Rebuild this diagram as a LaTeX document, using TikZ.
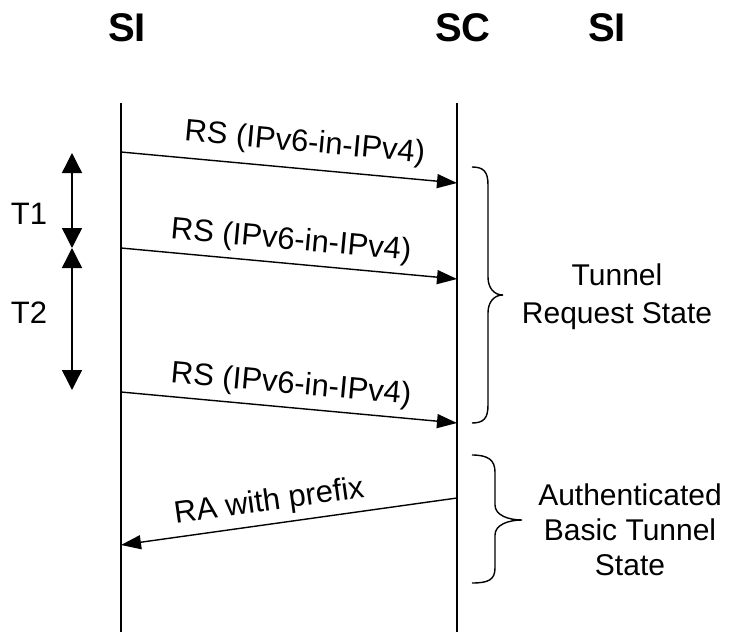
\documentclass[tikz,border=0pt]{standalone}
\usepackage{fontspec}
\setmainfont{Liberation Sans}
\usetikzlibrary{arrows.meta}
\begin{document}
\begin{tikzpicture}[x=1pt,y=-1pt,
  lifeline/.style={line width=1.4pt},
  msg/.style={line width=1.4pt,-{Triangle[length=20pt,width=14pt]}},
  timer/.style={line width=1.4pt,{Triangle[length=20pt,width=20pt]}-{Triangle[length=20pt,width=20pt]}},
  brace/.style={line width=1.4pt},
  lbl/.style={font=\fontsize{31}{37}\selectfont, inner sep=3pt},
  statelbl/.style={font=\fontsize{30}{#1}\selectfont, inner sep=3pt, align=center},
  hdr/.style={font=\fontsize{40}{44}\selectfont\bfseries, inner sep=0pt}]
\useasboundingbox (0,0) rectangle (732,632);

% entity headers
\node[hdr] (hSI) at (127,28) {SI};
\node[hdr] (hSC) at (463,28) {SC};
\node[hdr] (hSI2) at (607,28) {SI};

% lifelines
\coordinate (siTop) at (121,103);
\coordinate (siBot) at (121,632);
\coordinate (scTop) at (457,103);
\coordinate (scBot) at (457,632);
\draw[lifeline] (siTop) -- (siBot);
\draw[lifeline] (scTop) -- (scBot);

% message end points
\coordinate (m1s) at (121,152);
\coordinate (m1e) at (457,183);
\coordinate (m2s) at (121,248);
\coordinate (m2e) at (457,279);
\coordinate (m3s) at (121,392);
\coordinate (m3e) at (457,423);
\coordinate (ras) at (457,498);
\coordinate (rae) at (121,545);

% router solicitations
\draw[msg] (m1s) -- (m1e) node[pos=0.54, sloped, above=7pt, lbl] (l1) {RS (IPv6-in-IPv4)};
\draw[msg] (m2s) -- (m2e) node[pos=0.50, sloped, above=4pt, lbl] (l2) {RS (IPv6-in-IPv4)};
\draw[msg] (m3s) -- (m3e) node[pos=0.50, sloped, above=4pt, lbl] (l3) {RS (IPv6-in-IPv4)};

% router advertisement
\draw[msg] (ras) -- (rae);
\path (rae) -- (ras) node[pos=0.45, sloped, above=4pt, lbl] (l4) {RA with prefix};

% retransmission timers
\coordinate (t1a) at (72,153);
\coordinate (t1b) at (72,248);
\coordinate (t2b) at (72,390);
\draw[timer] (t1a) -- (t1b);
\draw[timer] (t1b) -- (t2b);
\node[lbl] (T1) at (29,214) {T1};
\node[lbl] (T2) at (29,313) {T2};

% state braces
\draw[brace] (472,167) .. controls (484,167) and (488,172) .. (488,185) -- (488,277)
  .. controls (488,288) and (494,295) .. (503,295)
  .. controls (494,295) and (488,302) .. (488,313) -- (488,405)
  .. controls (488,418) and (484,423) .. (472,423);
\draw[brace] (472,455) .. controls (488,455) and (495,460) .. (495,472) -- (495,505)
  .. controls (495,515) and (508,520) .. (522,520)
  .. controls (508,520) and (495,525) .. (495,535) -- (495,568)
  .. controls (495,580) and (488,583) .. (472,583);

\node[statelbl=38] (st1) at (617,297) {Tunnel\\Request State};
\node[statelbl=35] (st2) at (630,530) {Authenticated\\Basic Tunnel\\State};
\end{tikzpicture}
\end{document}
